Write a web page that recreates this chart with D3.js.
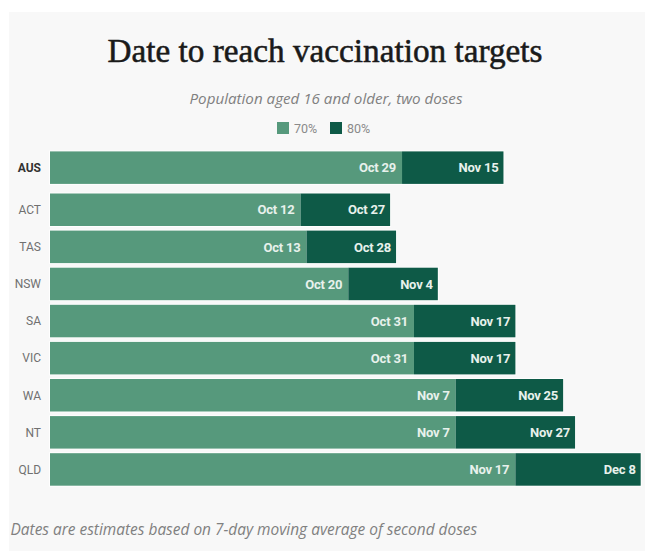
<!DOCTYPE html>
<html>
<head>
<meta charset="utf-8">
<script src="https://cdn.jsdelivr.net/npm/d3@7"></script>
<style>
  html, body { margin: 0; padding: 0; background: #ffffff; }
  svg { display: block; }
</style>
</head>
<body>
<script>
// ---- data ----
const categories = ["AUS", "ACT", "TAS", "NSW", "SA", "VIC", "WA", "NT", "QLD"];
const date70 = ["2021-10-29", "2021-10-12", "2021-10-13", "2021-10-20", "2021-10-31", "2021-10-31", "2021-11-07", "2021-11-07", "2021-11-17"];
const date80 = ["2021-11-15", "2021-10-27", "2021-10-28", "2021-11-04", "2021-11-17", "2021-11-17", "2021-11-25", "2021-11-27", "2021-12-08"];
const label70 = ["Oct 29", "Oct 12", "Oct 13", "Oct 20", "Oct 31", "Oct 31", "Nov 7", "Nov 7", "Nov 17"];
const label80 = ["Nov 15", "Oct 27", "Oct 28", "Nov 4", "Nov 17", "Nov 17", "Nov 25", "Nov 27", "Dec 8"];
const seriesNames = ["70%", "80%"];
const startDate = "2021-08-31";
const endDate = "2021-12-08";

const W = 645, H = 551;
const parse = d3.timeParse("%Y-%m-%d");
const rows = categories.map((c, i) => ({
  cat: c, d70: parse(date70[i]), d80: parse(date80[i]), l70: label70[i], l80: label80[i]
}));

const colors = { light: "#56997c", dark: "#0e5a47" };

const svg = d3.select("body").append("svg").attr("width", W).attr("height", H);

// panel background
svg.append("rect").attr("x", 9).attr("y", 12).attr("width", W - 9).attr("height", H - 12)
  .attr("fill", "#f8f8f8");

// title
const title = svg.append("text")
  .attr("x", 325).attr("y", 62)
  .attr("text-anchor", "middle")
  .attr("font-family", "'Liberation Serif', serif")
  .attr("font-weight", 400)
  .attr("font-size", 28)
  .attr("fill", "#1a1a1a")
  .attr("stroke", "#1a1a1a").attr("stroke-width", 0.55)
  .text("Date to reach vaccination targets");
{
  const w = title.node().getComputedTextLength();
  title.attr("font-size", 28 * 435 / w);
}

// subtitle
const sub = svg.append("text")
  .attr("x", 326).attr("y", 104)
  .attr("text-anchor", "middle")
  .attr("font-family", "'Open Sans', sans-serif")
  .attr("font-style", "italic")
  .attr("font-size", 13)
  .attr("fill", "#808080")
  .text("Population aged 16 and older, two doses");
{
  const w = sub.node().getComputedTextLength();
  sub.attr("font-size", 13 * 273 / w);
}

// legend
const color = d3.scaleOrdinal().domain(seriesNames).range([colors.light, colors.dark]);
const legX = [277, 330];
seriesNames.forEach((s, i) => {
  svg.append("rect").attr("x", legX[i]).attr("y", 122).attr("width", 12).attr("height", 12)
    .attr("fill", color(s));
  svg.append("text").attr("x", legX[i] + 17).attr("y", 132.5)
    .attr("font-family", "Roboto, sans-serif").attr("font-size", 12.5)
    .attr("fill", "#8a8a8a").text(s);
});

// scales
const x = d3.scaleTime().domain([parse(startDate), parse(endDate)]).range([50, 640.7]);
const y = d3.scaleBand().domain(categories).range([156.4, 485.7]).paddingInner(0.124).paddingOuter(0);
const groupGap = 5;
const yPos = d => y(d.cat) - (d.cat === "AUS" ? groupGap : 0);

const g = svg.append("g");
const row = g.selectAll("g.row").data(rows).join("g").attr("class", "row");

// light outline around whole bar
row.append("rect")
  .attr("x", x(parse(startDate)))
  .attr("y", d => yPos(d))
  .attr("width", d => x(d.d80) - x(parse(startDate)))
  .attr("height", y.bandwidth())
  .attr("fill", "none")
  .attr("stroke", "#ffffff").attr("stroke-opacity", 0.8).attr("stroke-width", 2);

row.append("rect")
  .attr("x", x(parse(startDate)))
  .attr("y", d => yPos(d))
  .attr("width", d => x(d.d70) - x(parse(startDate)))
  .attr("height", y.bandwidth())
  .attr("fill", color("70%"));

row.append("rect")
  .attr("x", d => x(d.d70))
  .attr("y", d => yPos(d))
  .attr("width", d => x(d.d80) - x(d.d70))
  .attr("height", y.bandwidth())
  .attr("fill", color("80%"));

const barFont = "Roboto, sans-serif";
row.append("text")
  .attr("x", d => x(d.d70) - 6)
  .attr("y", d => yPos(d) + y.bandwidth() / 2)
  .attr("dy", "0.36em")
  .attr("text-anchor", "end")
  .attr("font-family", barFont).attr("font-weight", 700).attr("font-size", 13)
  .attr("letter-spacing", -0.2)
  .attr("fill", "#e8f1ec")
  .text(d => d.l70);

row.append("text")
  .attr("x", d => x(d.d80) - 5)
  .attr("y", d => yPos(d) + y.bandwidth() / 2)
  .attr("dy", "0.36em")
  .attr("text-anchor", "end")
  .attr("font-family", barFont).attr("font-weight", 700).attr("font-size", 13)
  .attr("letter-spacing", -0.2)
  .attr("fill", "#e8f1ec")
  .text(d => d.l80);

// category labels
row.append("text")
  .attr("x", 41)
  .attr("y", d => yPos(d) + y.bandwidth() / 2)
  .attr("dy", "0.36em")
  .attr("text-anchor", "end")
  .attr("font-family", "Roboto, sans-serif")
  .attr("font-size", 12)
  .attr("font-weight", d => d.cat === "AUS" ? 700 : 400)
  .attr("fill", d => d.cat === "AUS" ? "#333333" : "#707070")
  .text(d => d.cat);

// footer note
const foot = svg.append("text")
  .attr("x", 10.5).attr("y", 535)
  .attr("font-family", "'Open Sans', sans-serif")
  .attr("font-style", "italic")
  .attr("font-size", 14)
  .attr("fill", "#808080")
  .text("Dates are estimates based on 7-day moving average of second doses");
{
  const w = foot.node().getComputedTextLength();
  foot.attr("font-size", 14 * 467 / w);
}
</script>
</body>
</html>
